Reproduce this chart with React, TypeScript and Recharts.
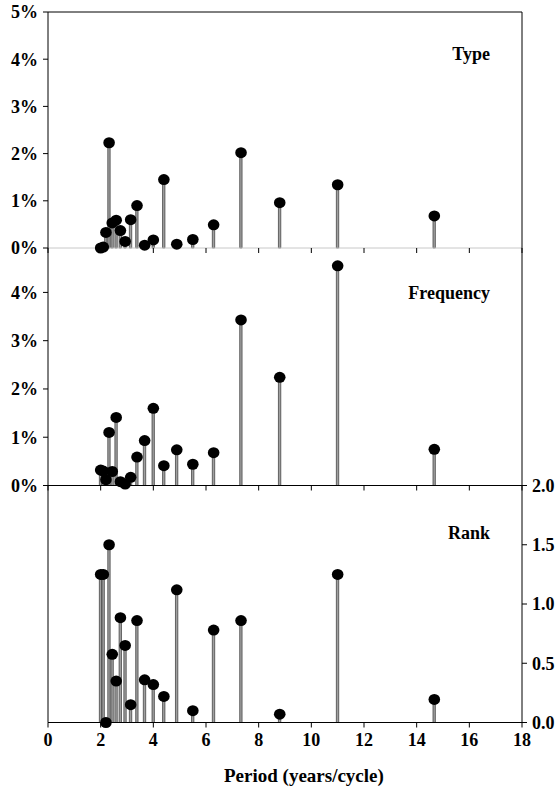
import React from "react";
import {
  Bar,
  ComposedChart,
  ReferenceLine,
  Scatter,
  XAxis,
  YAxis
} from "recharts";

// spectral periods (years/cycle) shared by all three panels
const periods = [2.0, 2.1, 2.2, 2.32, 2.44, 2.59, 2.75, 2.93, 3.14, 3.38, 3.67, 4.0, 4.4, 4.89, 5.5, 6.29, 7.33, 8.8, 11.0, 14.67];

// percent of variance
const typeVals = [0.0, 0.02, 0.33, 2.23, 0.53, 0.59, 0.37, 0.14, 0.6, 0.9, 0.06, 0.17, 1.45, 0.08, 0.18, 0.49, 2.02, 0.96, 1.34, 0.68];
const freqVals = [0.32, 0.3, 0.12, 1.1, 0.29, 1.41, 0.08, 0.03, 0.17, 0.59, 0.93, 1.6, 0.41, 0.74, 0.44, 0.68, 3.43, 2.24, 4.55, 0.75];
const rankVals = [1.25, 1.25, 0.0, 1.5, 0.575, 0.35, 0.885, 0.65, 0.15, 0.86, 0.36, 0.32, 0.22, 1.12, 0.1, 0.78, 0.86, 0.07, 1.25, 0.195];

const xTicks = [0, 2, 4, 6, 8, 10, 12, 14, 16, 18];
const typeTicks = [0, 1, 2, 3, 4, 5];
const freqTicks = [0, 1, 2, 3, 4];
const rankTicks = [0, 0.5, 1, 1.5, 2];

const W = 556;
const H = 789;
const FONT = "'Liberation Serif', 'Times New Roman', serif";
const tickStyle = { fill: "#000", fontSize: 18, fontWeight: "bold", fontFamily: FONT };

const rows = (vals: number[]) => periods.map((p, i) => ({ p, v: vals[i] }));

const Dot = (props: any) => {
  if (props.cx == null || props.cy == null) return <g />;
  return <ellipse cx={props.cx} cy={props.cy} rx={5.8} ry={5.5} fill="#000" />;
};

const noTick = () => <g />;

function Stems({ yId }: { yId: string }) {
  return [
    <Bar
      key="bar"
      yAxisId={yId}
      dataKey="v"
      barSize={4}
      fill="#a0a0a0"
      stroke="#333"
      strokeWidth={0.7}
      isAnimationActive={false}
    />,
    <Scatter key="dot" yAxisId={yId} dataKey="v" shape={<Dot />} isAnimationActive={false} />
  ];
}

const boxStyle: React.CSSProperties = { position: "absolute", left: 0, top: 0 };

const textStyle: React.CSSProperties = {
  position: "absolute",
  fontFamily: FONT,
  fontWeight: "bold",
  color: "#000",
  lineHeight: 1,
  whiteSpace: "nowrap"
};

function PanelLabel({ text, top }: { text: string; top: number }) {
  return <div style={{ ...textStyle, right: W - 490, top, fontSize: 18 }}>{text}</div>;
}

export default function App() {
  return (
    <div style={{ position: "absolute", left: 0, top: 0, width: W, height: H, background: "#fff" }}>
      {/* Type */}
      <div style={boxStyle}>
        <ComposedChart width={W} height={H} data={rows(typeVals)} margin={{ top: 12, right: 0, bottom: H - 248 - 12, left: 0 }}>
          <XAxis
            dataKey="p"
            type="number"
            domain={[0, 18]}
            ticks={xTicks}
            height={12}
            tick={noTick}
            tickSize={5}
            axisLine={{ stroke: "#c8c8c8" }}
            tickLine={{ stroke: "#000" }}
          />
          <YAxis yAxisId="l" domain={[0, 5]} ticks={typeTicks} width={48} tick={tickStyle} tickMargin={5} tickFormatter={(v) => `${v}%`} axisLine={{ stroke: "#000" }} tickLine={{ stroke: "#000" }} tickSize={5} />
          <YAxis yAxisId="r" orientation="right" domain={[0, 5]} width={34} tick={false} tickLine={false} axisLine={{ stroke: "#000" }} />
          <ReferenceLine yAxisId="l" y={5} stroke="#000" />
          {Stems({ yId: "l" })}
        </ComposedChart>
      </div>

      {/* Frequency */}
      <div style={boxStyle}>
        <ComposedChart width={W} height={H} data={rows(freqVals)} margin={{ top: 248, right: 0, bottom: H - 485.5 - 12, left: 0 }}>
          <XAxis
            dataKey="p"
            type="number"
            domain={[0, 18]}
            ticks={xTicks}
            height={12}
            tick={noTick}
            tickSize={5}
            axisLine={{ stroke: "#000" }}
            tickLine={{ stroke: "#000" }}
          />
          <YAxis yAxisId="l" domain={[0, 4.92]} ticks={freqTicks} width={48} tick={tickStyle} tickMargin={5} tickFormatter={(v) => `${v}%`} axisLine={{ stroke: "#000" }} tickLine={{ stroke: "#000" }} tickSize={5} />
          <YAxis yAxisId="r" orientation="right" domain={[0, 4.92]} width={34} tick={false} tickLine={false} axisLine={{ stroke: "#000" }} />
          {Stems({ yId: "l" })}
        </ComposedChart>
      </div>

      {/* Rank */}
      <div style={boxStyle}>
        <ComposedChart width={W} height={H} data={rows(rankVals)} margin={{ top: 485.5, right: 0, bottom: 0, left: 0 }}>
          <XAxis
            dataKey="p"
            type="number"
            domain={[0, 18]}
            ticks={xTicks}
            height={H - 722.5}
            tick={tickStyle}
            tickMargin={6}
            tickSize={5}
            axisLine={{ stroke: "#000" }}
            tickLine={{ stroke: "#000" }}
          />
          <YAxis yAxisId="l" domain={[0, 2]} width={48} tick={false} tickLine={false} axisLine={{ stroke: "#000" }} />
          <YAxis yAxisId="r" orientation="right" domain={[0, 2]} ticks={rankTicks} width={34} tick={tickStyle} tickMargin={5} tickFormatter={(v) => Number(v).toFixed(1)} axisLine={{ stroke: "#000" }} tickLine={{ stroke: "#000" }} tickSize={5} />
          {Stems({ yId: "r" })}
        </ComposedChart>
      </div>

      <PanelLabel text="Type" top={45} />
      <PanelLabel text="Frequency" top={284} />
      <PanelLabel text="Rank" top={523.5} />
      <div style={{ ...textStyle, left: 224, top: 766, fontSize: 19 }}>Period (years/cycle)</div>
    </div>
  );
}
